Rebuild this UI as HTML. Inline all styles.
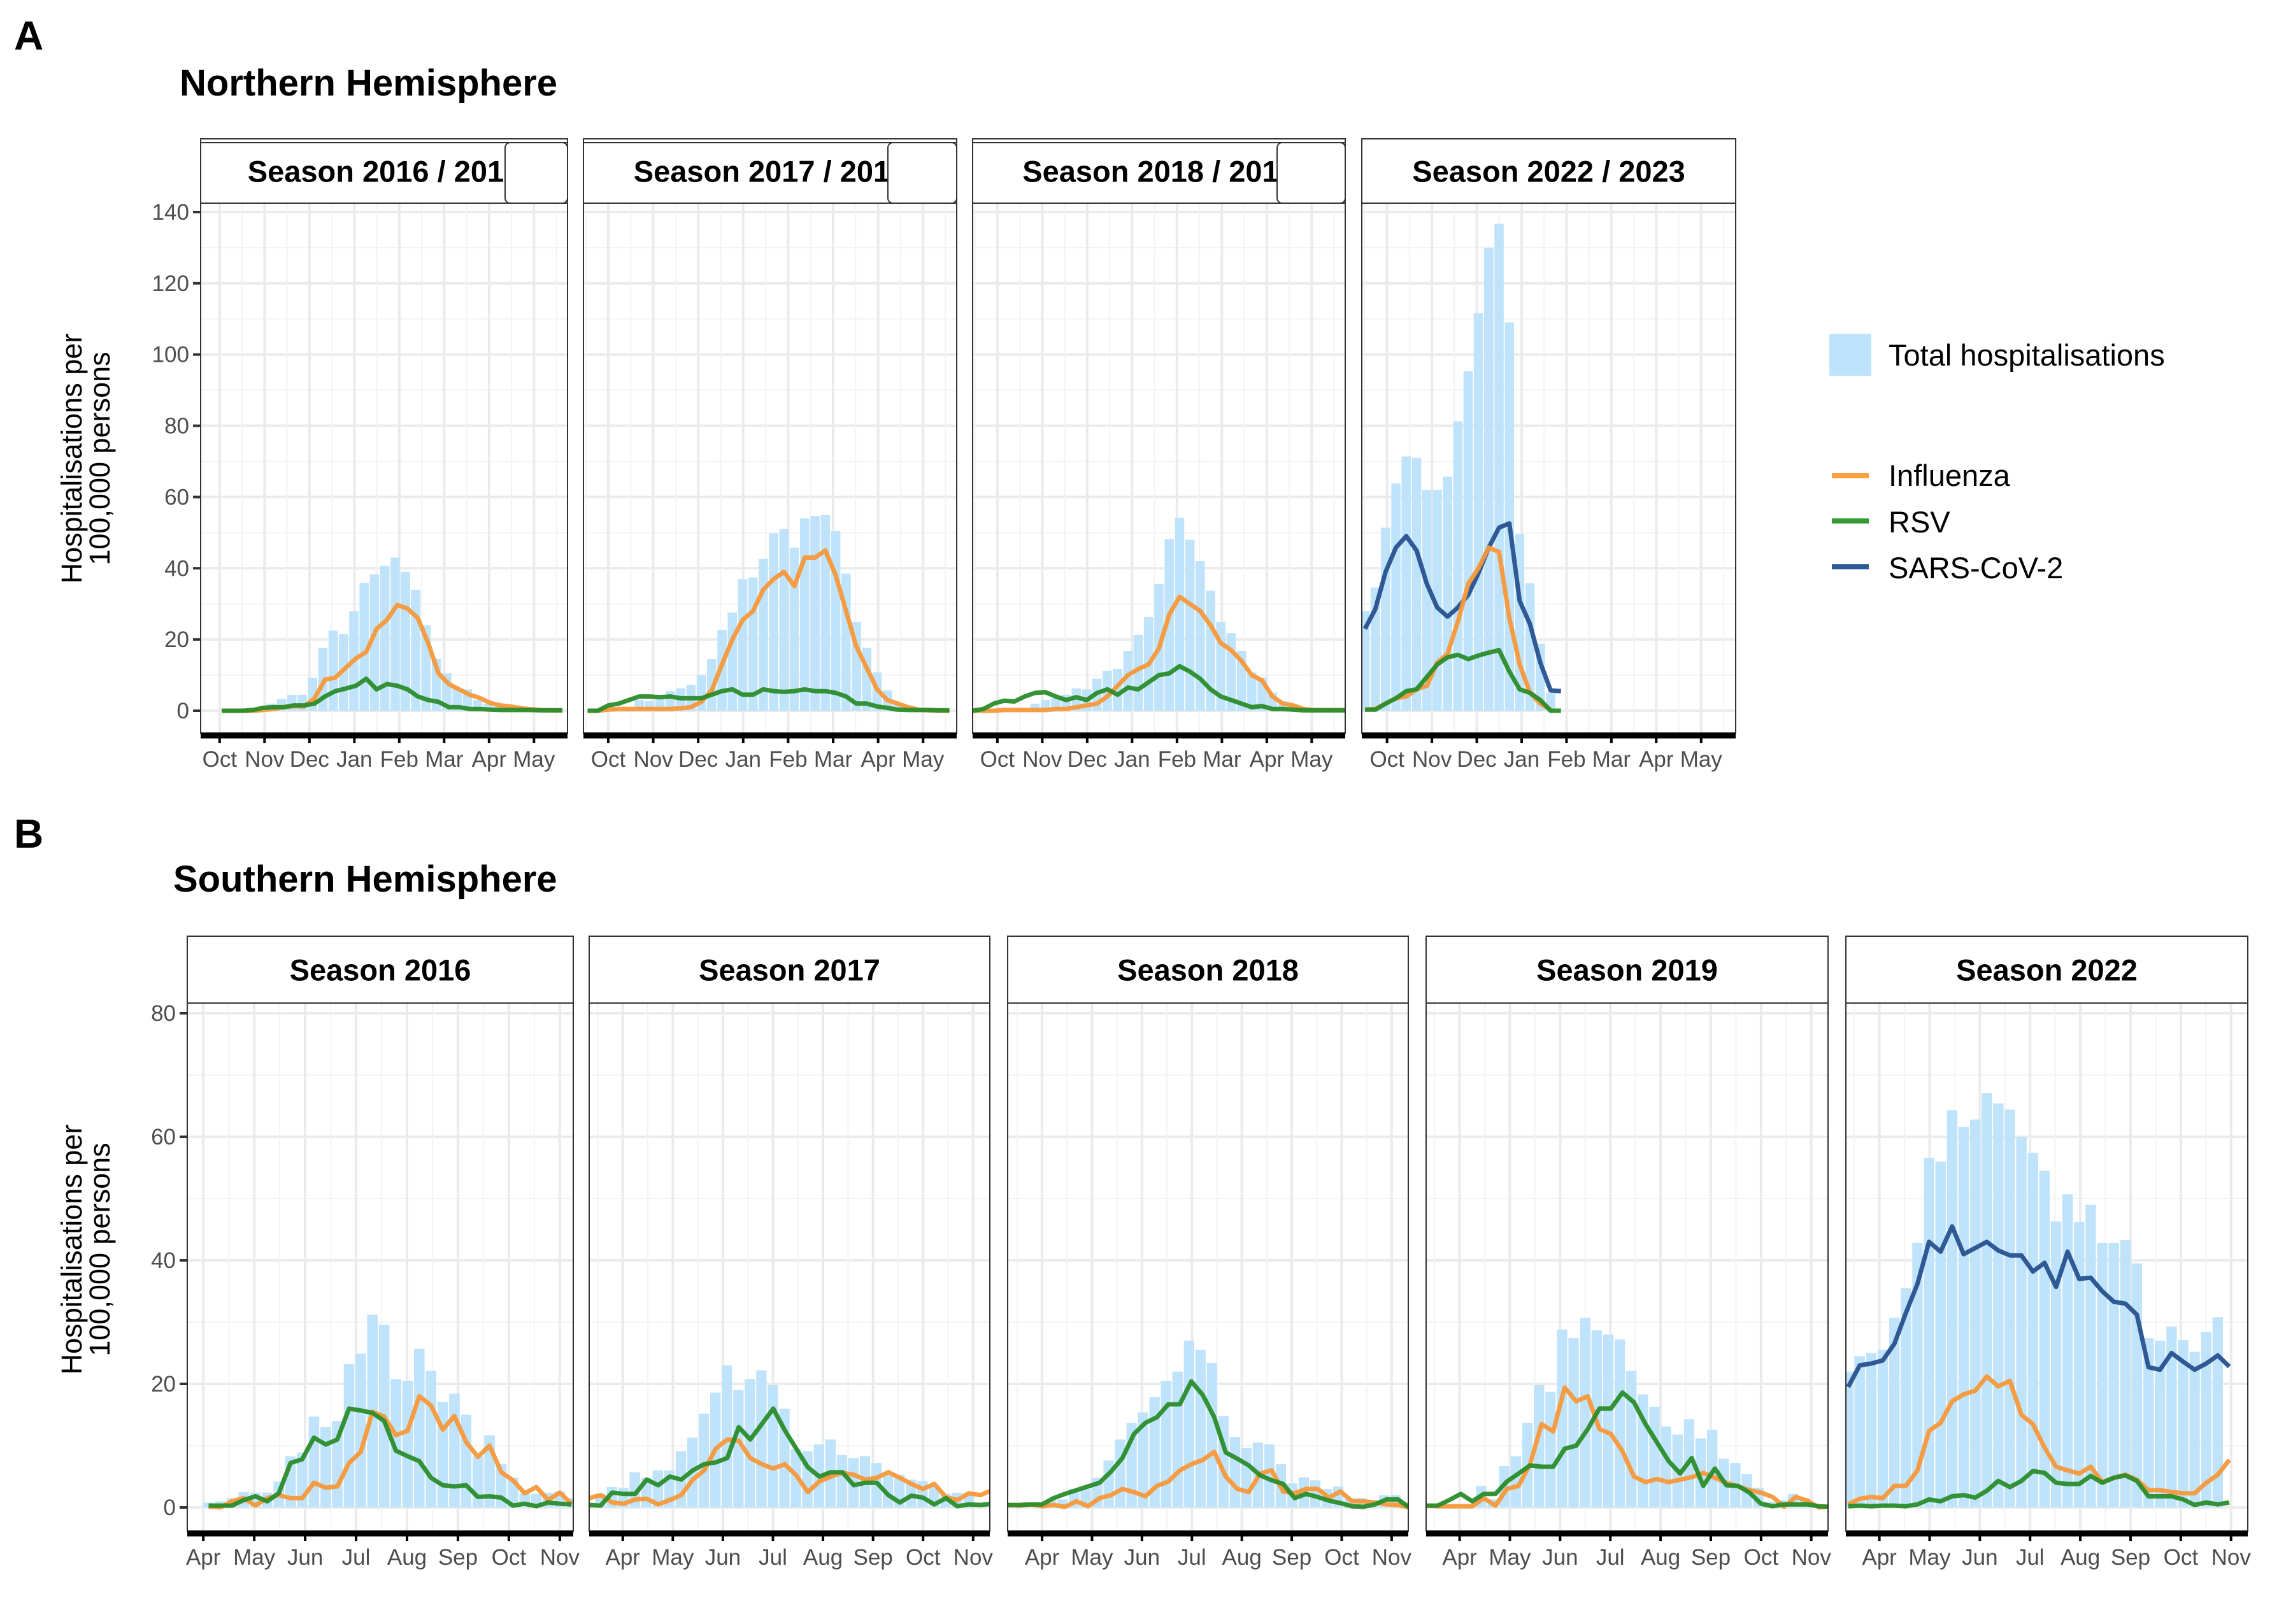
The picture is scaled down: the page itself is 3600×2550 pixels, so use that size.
<!DOCTYPE html>
<html><head><meta charset="utf-8"><title>Hospitalisations by season</title>
<style>
html,body{margin:0;padding:0;background:#fff;}
svg{display:block;font-family:"Liberation Sans",Arial,sans-serif;}
</style></head>
<body>
<svg id="chart" xmlns="http://www.w3.org/2000/svg" width="3600" height="2550" viewBox="0 0 3600 2550">
<rect x="0" y="0" width="3600" height="2550" fill="#fff"/>
<text x="22" y="78" font-size="64" font-weight="bold">A</text>
<text x="282" y="150" font-size="58" font-weight="bold">Northern Hemisphere</text>
<text x="22" y="1331" font-size="64" font-weight="bold">B</text>
<text x="272" y="1400" font-size="58" font-weight="bold">Southern Hemisphere</text>
<g transform="translate(134,720) rotate(-90)">
<text x="0" y="-6" font-size="45" text-anchor="middle">Hospitalisations per</text>
<text x="0" y="38" font-size="45" text-anchor="middle">100,000 persons</text>
</g>
<g transform="translate(134,1962) rotate(-90)">
<text x="0" y="-6" font-size="45" text-anchor="middle">Hospitalisations per</text>
<text x="0" y="38" font-size="45" text-anchor="middle">100,000 persons</text>
</g>
<g>
<rect x="2872" y="524" width="66" height="66" fill="#bfe3fb"/>
<text x="2965" y="574" font-size="47">Total hospitalisations</text>
<line x1="2876" y1="747" x2="2934" y2="747" stroke="#ffa040" stroke-width="8"/>
<text x="2965" y="763" font-size="47">Influenza</text>
<line x1="2876" y1="818" x2="2934" y2="818" stroke="#339933" stroke-width="8"/>
<text x="2965" y="836" font-size="47">RSV</text>
<line x1="2876" y1="890" x2="2934" y2="890" stroke="#2d5a96" stroke-width="8"/>
<text x="2965" y="908" font-size="47">SARS-CoV-2</text>
</g>
</svg>
<script>
// ---------- DATA (weekly values, hospitalisations per 100,000) ----------
const nhTitles = ["Season 2016 / 2017","Season 2017 / 2018","Season 2018 / 2019","Season 2022 / 2023"];
const shTitles = ["Season 2016","Season 2017","Season 2018","Season 2019","Season 2022"];
const nhMonths = ["Oct","Nov","Dec","Jan","Feb","Mar","Apr","May"];
const shMonths = ["Apr","May","Jun","Jul","Aug","Sep","Oct","Nov"];
const nhYTicks = [0,20,40,60,80,100,120,140];
const shYTicks = [0,20,40,60,80];

// first week of each series (weeks after first month tick)
const nh1TotalStart = 5, nh1LineStart = 0.2;
const nh1Total = [2,3.3,4.5,4.5,9.3,17.7,22.5,21.5,27.9,35.9,38.3,40.7,43,39,34,24,14.6,10.5,6.3,6,3,2,1.5,1];
const nh1Flu = [0,0,0,0,0.2,0.5,1,1.3,1.2,3.5,8.7,9.3,12,14.7,16.5,23,25.5,29.7,28.7,26,19,10.5,7.5,6,4.5,3.6,2.2,1.5,1.2,0.7,0.4,0.2,0.1,0.1];
const nh1Rsv = [0,0,0,0.2,0.8,1,1,1.5,1.5,2,4,5.5,6.2,7,9,6,7.5,7,6,4,3,2.5,1,1,0.5,0.5,0.3,0.2,0.2,0.2,0.2,0.1,0.1,0.1];

const nh2TotalStart = 3, nh2LineStart = -2;
const nh2Total = [3,2.7,3.4,5.5,6.3,7.3,10,14.5,22.7,27.6,37,37.4,42.6,49.8,51,45.8,54,54.7,54.9,50.4,38.5,24.9,17.7,10.8,5.7,2,1,0.5];
const nh2Flu = [0,0,0.3,0.5,0.5,0.5,0.5,0.5,0.5,0.7,1,2.5,5.7,13,20,25.5,28,34,37,39,35,43,43,45,38,28,18,12,6,3,2,1,0.3,0.1,0,0];
const nh2Rsv = [0,0,1.5,2,3,4,4,3.8,4,3.5,3.5,3.5,4.5,5.5,6,4.5,4.5,6,5.5,5.3,5.5,6,5.5,5.5,5,4,2,2,1.2,0.8,0.3,0.2,0.2,0.2,0.1,0.1];

const nh3TotalStart = 3.65, nh3LineStart = -2.35;
const nh3Total = [2,3,3.5,4.5,6.3,6,9,11.2,11.8,16.8,21.3,26.3,35.6,48.2,54.2,48,42,33.7,24.9,21.8,16.8,10.8,9.3,5.1,2.7,1.5,0.8];
const nh3Flu = [0,0,0,0.2,0.2,0.2,0.2,0.2,0.5,0.5,1,1.5,2,4,7,10,11.7,13,17.5,27,32,30,28,24,19,17,14,10,8.5,4,2,1.5,0.5,0.2,0.2,0.2,0.2];
const nh3Rsv = [0,0.5,2,2.8,2.6,4,5,5.2,4,3,3.8,3,5,6,4.5,6.5,6,8,10,10.5,12.5,11,9,6,4,3,2,1,1.3,0.5,0.5,0.3,0.1,0.1,0.1,0.1,0.1];

const nh4TotalStart = -2.14, nh4LineStart = -2.14;
const nh4Total = [28,34.6,51.4,63.8,71.4,71,62,62,65.7,81.3,95.3,111.6,130,136.7,109,49.6,35.8,18.8,5];
const nh4Flu = [0.3,0.5,2,3.5,4,6,7,13.5,16,25,35.6,40,45.8,44.6,26,13,5,2,0.3];
const nh4Rsv = [0.3,0.3,2,3.5,5.5,6,9.5,13,15,15.7,14.5,15.5,16.3,17,11,6,5,3,0,0];
const nh4Sars = [23,28.5,39,45.8,49,45,35.6,29,26.4,29,32.5,38.6,45.8,51.4,52.6,30.8,24.3,13.5,5.7,5.5];

const sh1TotalStart = 0.45, sh1LineStart = 0.45;
const sh1Total = [0.8,1,1.5,2.5,2.4,2.4,4.2,8.3,8.9,14.7,13,14,23.2,24.9,31.2,29.6,20.8,20.5,25.7,22.1,17.1,18.4,15,8.3,11.7,7,4.8,2.4,2.2,2.4,2.6,1.5];
const sh1Flu = [0.2,0,1,1.5,0.3,1.5,2,1.5,1.5,4,3.2,3.4,7.2,9,15.5,14.7,11.7,12.4,18,16.5,12.6,14.8,10.6,8.2,10,5.7,4.4,2.3,3.3,1.2,2.4,0.6];
const sh1Rsv = [0.3,0.3,0.3,1.2,1.8,1,2.3,7.2,7.8,11.3,10.2,11,16,15.7,15.3,14,9.2,8.3,7.5,4.8,3.6,3.4,3.6,1.7,1.8,1.6,0.3,0.6,0.2,0.8,0.6,0.5];

const sh2TotalStart = -1.95, sh2LineStart = -2.92;
const sh2Total = [2.2,3.3,3.2,5.7,4.8,6,6,9.1,11.3,15.2,18.6,23,19,20.8,22.2,19.8,16,9.5,9.1,10.2,11,8.5,8,8.3,7.2,5.2,5.3,4.5,4.3,3.4,2.2,2.4,2.4];
const sh2Flu = [1.5,2,0.8,0.6,1.3,1.4,0.5,1.2,2,4.5,6,9.5,11,10.8,8,7,6.3,7,5.2,2.5,4.2,5,5.6,5.3,4.5,4.8,5.7,4.8,3.8,3,3.8,1.7,1.2,2.3,2,2.8];
const sh2Rsv = [0.4,0.3,2.4,2.2,2.2,4.5,3.6,5,4.5,6,7,7.3,8,13,11,13.5,16,12.5,9.5,6.5,5,5.7,5.7,3.6,4,4,2,0.8,1.9,1.6,0.5,1.5,0.2,0.5,0.4,0.6];

const sh3TotalStart = 0.8, sh3LineStart = -3.0;
const sh3Total = [1.1,1.3,3,3,4.8,7.6,11,13.7,15.4,17.9,20.5,22,27,25.5,23.4,14.8,11.4,9.6,10.5,10.2,7,3.9,4.9,4.4,3,3.4,1.5,1.5,1.2,2,2];
const sh3Flu = [0.4,0.3,0.5,0.2,0.4,0.1,1,0.2,1.5,2,3,2.5,1.8,3.5,4.2,6,7,7.7,9,5,3,2.5,5.5,6,2.6,2.3,3,3,1.6,2.6,1,1,0.8,0.5,0.4,0];
const sh3Rsv = [0.4,0.4,0.5,0.5,1.5,2.2,2.8,3.4,4,5.8,8,11.9,13.7,14.6,16.7,16.7,20.4,18.2,14.6,8.9,7.9,6.8,5.2,4.4,3.8,1.5,2.2,1.7,1.1,0.7,0.2,0.1,0.5,1.3,1.3,0];

const sh4TotalStart = 1.87, sh4LineStart = -2.9;
const sh4Total = [3.5,1.3,6.7,8.3,13.7,19.8,18.7,28.8,27.4,30.7,28.7,28,27.2,22.1,18.3,16.3,13.1,11.8,14.3,11.2,12.6,7.9,7.2,5.4,3.2,0.9,1.2,2.2,1.5];
const sh4Flu = [0.3,0.2,0.2,0.2,0.2,1.5,0.3,3,3.5,7,13.5,12.3,19.4,17.2,18,12.7,11.9,9.1,5,4.1,4.6,4.1,4.5,4.9,5.6,4.8,4,3.4,2.8,2.4,1.7,0.1,1.7,1.1,0,0.2];
const sh4Rsv = [0.3,0.3,1.2,2.2,1,2.2,2.2,4.2,5.5,6.8,6.6,6.6,9.5,10,12.7,16,16,18.6,17,13.5,10.5,7.5,5.5,8,3.5,6.3,3.6,3.5,2.4,0.6,0.2,0.5,0.5,0.5,0.2,0.1];

const sh5TotalStart = -2.7, sh5LineStart = -2.7;
const sh5Total = [22,24.5,25,25.5,30.7,35.5,42.8,56.6,56,64.3,61.6,62.8,67.1,65.4,64.4,60,57.4,54.5,46.3,50.7,46.2,49,42.8,42.8,43.3,39.5,27.4,27,29.3,27.1,25.2,28.4,30.8];
const sh5Flu = [0.5,1.4,1.7,1.5,3.5,3.5,6,12.4,13.7,17.2,18.3,18.9,21.2,19.6,20.5,15,13.5,9.7,6.6,6,5.5,6.6,4.1,4.8,5.3,4.5,2.8,2.8,2.5,2.3,2.3,4,5.3,7.7];
const sh5Rsv = [0.2,0.3,0.2,0.3,0.3,0.2,0.5,1.3,1,1.8,2,1.6,2.7,4.3,3.3,4.3,5.9,5.6,4,3.8,3.8,5.1,4,4.8,5.2,4.3,1.8,1.8,1.8,1.3,0.4,0.8,0.5,0.8];
const sh5Sars = [19.5,23,23.3,23.8,26.5,31.5,36.2,43,41.4,45.5,41,42,43,41.6,40.8,40.8,38.2,39.6,35.7,41.4,37,37.2,35,33.3,33,31.2,22.7,22.3,25,23.6,22.3,23.3,24.6,22.8];

// ---------- RENDERING ----------
const NS = "http://www.w3.org/2000/svg";
const svg = document.getElementById("chart");
const WEEKS_PER_MONTH = 4.35;
const COL = {flu:"#f7983a", rsv:"#2a8c2a", sars:"#27518f", bar:"#bfe3fb"};

function el(tag, attrs, parent){
  const e = document.createElementNS(NS, tag);
  for (const k in attrs) e.setAttribute(k, attrs[k]);
  parent.appendChild(e);
  return e;
}

let clipId = 0;
function drawPanel(p){
  const g = el("g", {}, svg);
  
  
  const xs = v => p.left + (v - p.xmin) / (p.xmax - p.xmin) * (p.right - p.left);
  const ys = v => p.y0 - v * p.ppu;
  const wk = (p.right - p.left) / (p.xmax - p.xmin);

  const strip = el("rect", {x:p.left, y:p.stripTop, width:p.right-p.left, height:p.plotTop-p.stripTop, fill:"#fff", stroke:"#333", "stroke-width":2}, g);
  
  
  const st = el("text", {x:(p.left+p.right)/2, y:p.plotTop-(p.plotTop-p.stripTop)/2+17, "font-size":47, "font-weight":"bold", "text-anchor":"middle"}, g);
  st.textContent = p.title;
  
  
  if (p.clipped){
    const box = el("rect", {x:p.left+478, y:p.stripTop+6, width:p.right-p.left-478, height:p.plotTop-p.stripTop-6, rx:8, fill:"#fff", stroke:"#333", "stroke-width":2}, g);
    
    
    const tl = el("line", {x1:p.left, y1:p.stripTop+6, x2:p.right, y2:p.stripTop+6, stroke:"#333", "stroke-width":2}, g);
    
    
  }

  clipId++;
  const cp = el("clipPath", {id:"clip"+clipId}, g);
  el("rect", {x:p.left, y:p.plotTop, width:p.right-p.left, height:p.plotBottom-p.plotTop}, cp);

  const grid = el("g", {"clip-path":"url(#clip"+clipId+")"}, g);
  
  
  for (let v = p.yTicks[0] - 10; v <= p.yTicks[p.yTicks.length-1] + 10; v += 10){
    const major = (v % 20 === 0);
    const ln = el("line", {x1:p.left, x2:p.right, y1:ys(v), y2:ys(v), stroke:major?"#ebebeb":"#f3f3f3", "stroke-width":major?4:2}, grid);
    
    
  }
  for (let m = -1; m <= 8; m += 0.5){
    const major = Number.isInteger(m);
    const x = xs(m * WEEKS_PER_MONTH);
    const ln = el("line", {x1:x, x2:x, y1:p.plotTop, y2:p.plotBottom, stroke:major?"#ebebeb":"#f3f3f3", "stroke-width":major?4:2}, grid);
    
    
  }

  const plot = el("g", {"clip-path":"url(#clip"+clipId+")"}, g);
  
  
  p.total.forEach((v, i) => {
    const cx = xs(p.totalStart + i);
    const r = el("rect", {x:cx - wk*0.45, y:ys(v), width:wk*0.9, height:Math.max(0, ys(0)-ys(v)), fill:COL.bar}, plot);
    
    
  });
  p.lines.forEach(s => {
    const pts = s.values.map((v, i) => xs(p.lineStart + i).toFixed(1) + "," + ys(v).toFixed(1)).join(" ");
    const pl = el("polyline", {points:pts, fill:"none", stroke:COL[s.key], "stroke-width":7, "stroke-linejoin":"round", "stroke-opacity":0.95}, plot);
    
    
  });

  const fr = el("rect", {x:p.left, y:p.plotTop, width:p.right-p.left, height:p.plotBottom-p.plotTop, fill:"none", stroke:"#333", "stroke-width":2}, g);
  
  
  const ax = el("line", {x1:p.left, x2:p.right, y1:p.plotBottom+4, y2:p.plotBottom+4, stroke:"#000", "stroke-width":9}, g);
  
  

  p.months.forEach((mname, k) => {
    const x = xs(k * WEEKS_PER_MONTH);
    const t = el("line", {x1:x, x2:x, y1:p.plotBottom+4, y2:p.plotBottom+16, stroke:"#000", "stroke-width":4}, g);
    
    
    const tx = el("text", {x:x, y:p.plotBottom+53, "font-size":35, fill:"#4d4d4d", "text-anchor":"middle"}, g);
    tx.textContent = mname;
    
    
  });

  if (p.showY){
    p.yTicks.forEach(v => {
      const t = el("line", {x1:p.left-12, x2:p.left, y1:ys(v), y2:ys(v), stroke:"#333", "stroke-width":4}, g);
      
      
      const tx = el("text", {x:p.left-18, y:ys(v)+12, "font-size":35, fill:"#4d4d4d", "text-anchor":"end"}, g);
      tx.textContent = v;
      
      
    });
  }
}

const topGeom = {stripTop:218, plotTop:319, plotBottom:1151, y0:1116, ppu:5.593, months:nhMonths, yTicks:nhYTicks};
const botGeom = {stripTop:1470, plotTop:1575, plotBottom:2404, y0:2367, ppu:9.70, months:shMonths, yTicks:shYTicks};

const panels = [
  Object.assign({}, topGeom, {name:"nh-panel-2016", left:315, right:891, xmin:-1.84, xmax:33.7, title:nhTitles[0], clipped:true, showY:true,
    total:nh1Total, totalStart:nh1TotalStart, lineStart:nh1LineStart, lines:[{key:"flu",values:nh1Flu},{key:"rsv",values:nh1Rsv}]}),
  Object.assign({}, topGeom, {name:"nh-panel-2017", left:916, right:1502, xmin:-2.4, xmax:33.7, title:nhTitles[1], clipped:true,
    total:nh2Total, totalStart:nh2TotalStart, lineStart:nh2LineStart, lines:[{key:"flu",values:nh2Flu},{key:"rsv",values:nh2Rsv}]}),
  Object.assign({}, topGeom, {name:"nh-panel-2018", left:1527, right:2112, xmin:-2.4, xmax:33.7, title:nhTitles[2], clipped:true,
    total:nh3Total, totalStart:nh3TotalStart, lineStart:nh3LineStart, lines:[{key:"flu",values:nh3Flu},{key:"rsv",values:nh3Rsv}]}),
  Object.assign({}, topGeom, {name:"nh-panel-2022", left:2138, right:2725, xmin:-2.45, xmax:33.8, title:nhTitles[3],
    total:nh4Total, totalStart:nh4TotalStart, lineStart:nh4LineStart, lines:[{key:"sars",values:nh4Sars},{key:"flu",values:nh4Flu},{key:"rsv",values:nh4Rsv}]}),
  Object.assign({}, botGeom, {name:"sh-panel-2016", left:294, right:900, xmin:-1.37, xmax:31.6, title:shTitles[0], showY:true,
    total:sh1Total, totalStart:sh1TotalStart, lineStart:sh1LineStart, lines:[{key:"flu",values:sh1Flu},{key:"rsv",values:sh1Rsv}]}),
  Object.assign({}, botGeom, {name:"sh-panel-2017", left:925, right:1554, xmin:-2.92, xmax:31.9, title:shTitles[1],
    total:sh2Total, totalStart:sh2TotalStart, lineStart:sh2LineStart, lines:[{key:"flu",values:sh2Flu},{key:"rsv",values:sh2Rsv}]}),
  Object.assign({}, botGeom, {name:"sh-panel-2018", left:1582, right:2211, xmin:-3.0, xmax:31.9, title:shTitles[2],
    total:sh3Total, totalStart:sh3TotalStart, lineStart:sh3LineStart, lines:[{key:"flu",values:sh3Flu},{key:"rsv",values:sh3Rsv}]}),
  Object.assign({}, botGeom, {name:"sh-panel-2019", left:2239, right:2870, xmin:-2.9, xmax:31.9, title:shTitles[3],
    total:sh4Total, totalStart:sh4TotalStart, lineStart:sh4LineStart, lines:[{key:"flu",values:sh4Flu},{key:"rsv",values:sh4Rsv}]}),
  Object.assign({}, botGeom, {name:"sh-panel-2022", left:2898, right:3529, xmin:-2.9, xmax:31.9, title:shTitles[4],
    total:sh5Total, totalStart:sh5TotalStart, lineStart:sh5LineStart, lines:[{key:"sars",values:sh5Sars},{key:"flu",values:sh5Flu},{key:"rsv",values:sh5Rsv}]})
];
panels.forEach(drawPanel);
</script>
</body></html>
